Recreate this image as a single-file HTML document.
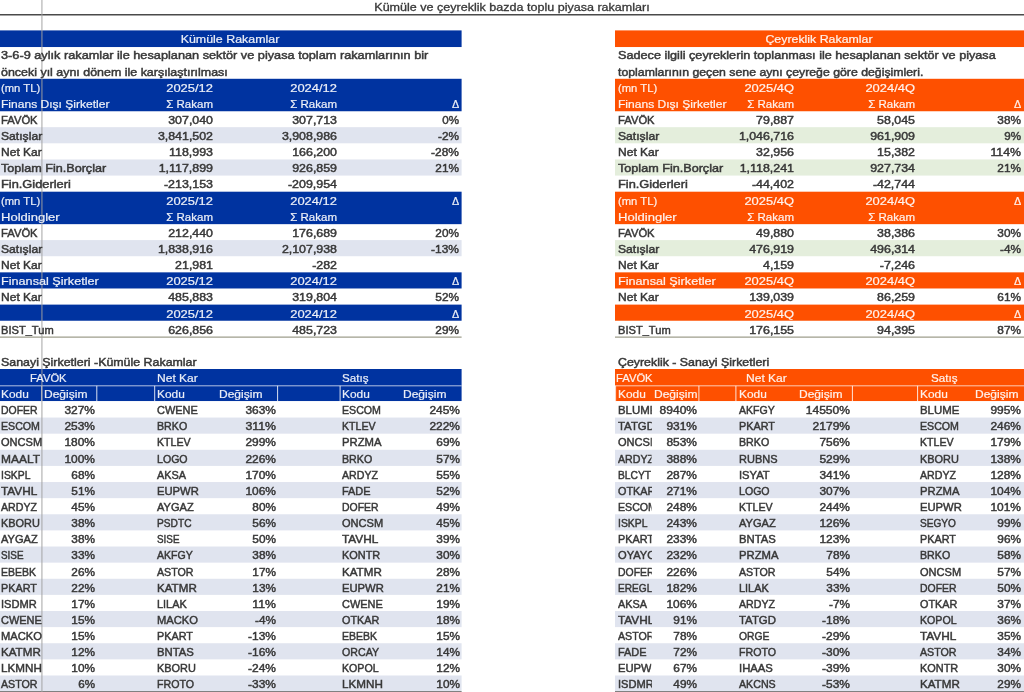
<!DOCTYPE html>
<html lang="tr">
<head>
<meta charset="utf-8">
<title>Kümüle ve çeyreklik bazda toplu piyasa rakamları</title>
<style>
html,body{margin:0;padding:0;background:#fff;}
body{width:1024px;height:692px;position:relative;overflow:hidden;font-family:"Liberation Sans",Arial,sans-serif;font-size:10.8px;color:#383838;}
#bg{position:absolute;left:0;top:0;}
#wrap{position:absolute;left:0;top:0;width:1024px;height:692px;filter:blur(0.4px);}
.row{position:absolute;left:0;width:1024px;height:16px;}
.t{position:absolute;top:0;display:block;white-space:nowrap;line-height:16px;height:16px;-webkit-text-stroke:0.45px currentColor;transform-origin:0 50%;}
.r{text-align:right;width:200px;transform-origin:100% 50%;}
.c{text-align:center;width:300px;transform-origin:50% 50%;}
.w{color:rgba(255,255,255,0.9);-webkit-text-stroke:0.2px currentColor;}
.clip{overflow:hidden;}

</style>
</head>
<body>
<div id="wrap">
<svg id="bg" width="1024" height="692" viewBox="0 0 1024 692" overflow="visible">
<rect x="-6.00" y="30.40" width="467.60" height="16.63" fill="#0033A0"/>
<rect x="-6.00" y="78.79" width="467.60" height="32.46" fill="#0033A0"/>
<rect x="-6.00" y="127.18" width="467.60" height="16.13" fill="#E0E4EF"/>
<rect x="-6.00" y="159.44" width="467.60" height="16.13" fill="#E0E4EF"/>
<rect x="-6.00" y="191.70" width="467.60" height="32.46" fill="#0033A0"/>
<rect x="-6.00" y="240.09" width="467.60" height="16.13" fill="#E0E4EF"/>
<rect x="-6.00" y="272.35" width="467.60" height="16.13" fill="#0033A0"/>
<rect x="-6.00" y="304.61" width="467.60" height="16.13" fill="#0033A0"/>
<rect x="615.00" y="30.40" width="415.00" height="16.63" fill="#FE5000"/>
<rect x="615.00" y="78.79" width="415.00" height="32.46" fill="#FE5000"/>
<rect x="615.00" y="127.18" width="415.00" height="16.13" fill="#E4EEDC"/>
<rect x="615.00" y="159.44" width="415.00" height="16.13" fill="#E4EEDC"/>
<rect x="615.00" y="191.70" width="415.00" height="32.46" fill="#FE5000"/>
<rect x="615.00" y="240.09" width="415.00" height="16.13" fill="#E4EEDC"/>
<rect x="615.00" y="272.35" width="415.00" height="16.13" fill="#FE5000"/>
<rect x="615.00" y="304.61" width="415.00" height="16.13" fill="#FE5000"/>
<rect x="-6.00" y="369.00" width="467.60" height="32.04" fill="#0033A0"/>
<rect x="-6.00" y="417.56" width="467.60" height="16.12" fill="#E0E4EF"/>
<rect x="-6.00" y="449.80" width="467.60" height="16.12" fill="#E0E4EF"/>
<rect x="-6.00" y="482.04" width="467.60" height="16.12" fill="#E0E4EF"/>
<rect x="-6.00" y="514.28" width="467.60" height="16.12" fill="#E0E4EF"/>
<rect x="-6.00" y="546.52" width="467.60" height="16.12" fill="#E0E4EF"/>
<rect x="-6.00" y="578.76" width="467.60" height="16.12" fill="#E0E4EF"/>
<rect x="-6.00" y="611.00" width="467.60" height="16.12" fill="#E0E4EF"/>
<rect x="-6.00" y="643.24" width="467.60" height="16.12" fill="#E0E4EF"/>
<rect x="-6.00" y="675.48" width="467.60" height="16.12" fill="#E0E4EF"/>
<rect x="615.00" y="369.00" width="415.00" height="32.04" fill="#FE5000"/>
<rect x="615.00" y="417.56" width="415.00" height="16.12" fill="#E0E4EF"/>
<rect x="615.00" y="449.80" width="415.00" height="16.12" fill="#E0E4EF"/>
<rect x="615.00" y="482.04" width="415.00" height="16.12" fill="#E0E4EF"/>
<rect x="615.00" y="514.28" width="415.00" height="16.12" fill="#E0E4EF"/>
<rect x="615.00" y="546.52" width="415.00" height="16.12" fill="#E0E4EF"/>
<rect x="615.00" y="578.76" width="415.00" height="16.12" fill="#E0E4EF"/>
<rect x="615.00" y="611.00" width="415.00" height="16.12" fill="#E0E4EF"/>
<rect x="615.00" y="643.24" width="415.00" height="16.12" fill="#E0E4EF"/>
<rect x="615.00" y="675.48" width="415.00" height="16.12" fill="#E0E4EF"/>
<line x1="-6" y1="14.7" x2="1030" y2="14.7" stroke="#4a4a4a" stroke-width="1.4"/>
<line x1="-6.00" y1="337.17" x2="461.60" y2="337.17" stroke="#9e9e8c" stroke-width="1.2"/>
<line x1="615.00" y1="337.17" x2="1030.00" y2="337.17" stroke="#9e9e8c" stroke-width="1.2"/>
<line x1="-6.00" y1="385.82" x2="461.60" y2="385.82" stroke="rgba(255,255,255,0.7)" stroke-width="1"/>
<line x1="41.70" y1="385.82" x2="41.70" y2="401.04" stroke="rgba(255,255,255,0.85)" stroke-width="1"/>
<line x1="96.80" y1="385.82" x2="96.80" y2="401.04" stroke="rgba(255,255,255,0.85)" stroke-width="1"/>
<line x1="154.70" y1="385.82" x2="154.70" y2="401.04" stroke="rgba(255,255,255,0.85)" stroke-width="1"/>
<line x1="277.60" y1="385.82" x2="277.60" y2="401.04" stroke="rgba(255,255,255,0.85)" stroke-width="1"/>
<line x1="340.10" y1="385.82" x2="340.10" y2="401.04" stroke="rgba(255,255,255,0.85)" stroke-width="1"/>
<line x1="-6.00" y1="691.50" x2="461.60" y2="691.50" stroke="#808080" stroke-width="1.2"/>
<line x1="615.00" y1="385.82" x2="1030.00" y2="385.82" stroke="rgba(255,255,255,0.7)" stroke-width="1"/>
<line x1="615.60" y1="385.82" x2="615.60" y2="401.04" stroke="rgba(255,255,255,0.85)" stroke-width="1"/>
<line x1="698.90" y1="385.82" x2="698.90" y2="401.04" stroke="rgba(255,255,255,0.85)" stroke-width="1"/>
<line x1="735.90" y1="385.82" x2="735.90" y2="401.04" stroke="rgba(255,255,255,0.85)" stroke-width="1"/>
<line x1="852.40" y1="385.82" x2="852.40" y2="401.04" stroke="rgba(255,255,255,0.85)" stroke-width="1"/>
<line x1="917.60" y1="385.82" x2="917.60" y2="401.04" stroke="rgba(255,255,255,0.85)" stroke-width="1"/>
<line x1="615.00" y1="691.50" x2="1030.00" y2="691.50" stroke="#808080" stroke-width="1.2"/>
<line x1="41.9" y1="-6" x2="41.9" y2="698" stroke="#a0a0a0" stroke-opacity="0.6" stroke-width="1.6"/>
</svg>
<h1 class="t c" style="margin:0;font-weight:normal;left:362.0px;top:-1px;font-size:10.7px;-webkit-text-stroke-width:0.3px;transform:scaleX(1.174)">Kümüle ve çeyreklik bazda toplu piyasa rakamları</h1>
<section class="tbl" aria-label="Kümüle Rakamlar">
<div class="row" style="top:31px">
<span class="t c w" style="left:80.3px;transform:scaleX(1.150)">Kümüle Rakamlar</span>
</div>
<div class="row" style="top:47px">
<span class="t" style="left:1.0px;transform:scaleX(1.179)">3-6-9 aylık rakamlar ile hesaplanan sektör ve piyasa toplam rakamlarının bir</span>
</div>
<div class="row" style="top:64px">
<span class="t" style="left:1.0px;transform:scaleX(1.152)">önceki yıl aynı dönem ile karşılaştırılması</span>
</div>
<div class="row" style="top:80px">
<span class="t w" style="left:1.0px;transform:scaleX(1.042)">(mn TL)</span>
<span class="t r w" style="left:13.4px;transform:scaleX(1.199)">2025/12</span>
<span class="t r w" style="left:137.4px;transform:scaleX(1.199)">2024/12</span>
</div>
<div class="row" style="top:96px">
<span class="t w" style="left:1.0px;transform:scaleX(1.116)">Finans Dışı Şirketler</span>
<span class="t r w" style="left:13.4px;transform:scaleX(1.067)">Σ Rakam</span>
<span class="t r w" style="left:137.4px;transform:scaleX(1.067)">Σ Rakam</span>
<span class="t r w" style="left:259.2px">Δ</span>
</div>
<div class="row" style="top:112px">
<span class="t" style="left:1.0px;transform:scaleX(1.040)">FAVÖK</span>
<span class="t r" style="left:13.4px;transform:scaleX(1.147)">307,040</span>
<span class="t r" style="left:137.4px;transform:scaleX(1.147)">307,713</span>
<span class="t r" style="left:259.2px;transform:scaleX(1.075)">0%</span>
</div>
<div class="row" style="top:128px">
<span class="t" style="left:1.0px;transform:scaleX(1.125)">Satışlar</span>
<span class="t r" style="left:13.4px;transform:scaleX(1.147)">3,841,502</span>
<span class="t r" style="left:137.4px;transform:scaleX(1.147)">3,908,986</span>
<span class="t r" style="left:259.2px;transform:scaleX(1.095)">-2%</span>
</div>
<div class="row" style="top:144px">
<span class="t" style="left:1.0px;transform:scaleX(1.114)">Net Kar</span>
<span class="t r" style="left:13.4px;transform:scaleX(1.150)">118,993</span>
<span class="t r" style="left:137.4px;transform:scaleX(1.147)">166,200</span>
<span class="t r" style="left:259.2px;transform:scaleX(1.107)">-28%</span>
</div>
<div class="row" style="top:160px">
<span class="t" style="left:1.0px;transform:scaleX(1.169)">Toplam Fin.Borçlar</span>
<span class="t r" style="left:13.4px;transform:scaleX(1.150)">1,117,899</span>
<span class="t r" style="left:137.4px;transform:scaleX(1.147)">926,859</span>
<span class="t r" style="left:259.2px;transform:scaleX(1.095)">21%</span>
</div>
<div class="row" style="top:176px">
<span class="t" style="left:1.0px;transform:scaleX(1.187)">Fin.Giderleri</span>
<span class="t r" style="left:13.4px;transform:scaleX(1.150)">-213,153</span>
<span class="t r" style="left:137.4px;transform:scaleX(1.150)">-209,954</span>
</div>
<div class="row" style="top:193px">
<span class="t w" style="left:1.0px;transform:scaleX(1.042)">(mn TL)</span>
<span class="t r w" style="left:13.4px;transform:scaleX(1.199)">2025/12</span>
<span class="t r w" style="left:137.4px;transform:scaleX(1.199)">2024/12</span>
<span class="t r w" style="left:259.2px">Δ</span>
</div>
<div class="row" style="top:209px">
<span class="t w" style="left:1.0px;transform:scaleX(1.207)">Holdingler</span>
<span class="t r w" style="left:13.4px;transform:scaleX(1.067)">Σ Rakam</span>
<span class="t r w" style="left:137.4px;transform:scaleX(1.067)">Σ Rakam</span>
</div>
<div class="row" style="top:225px">
<span class="t" style="left:1.0px;transform:scaleX(1.040)">FAVÖK</span>
<span class="t r" style="left:13.4px;transform:scaleX(1.147)">212,440</span>
<span class="t r" style="left:137.4px;transform:scaleX(1.147)">176,689</span>
<span class="t r" style="left:259.2px;transform:scaleX(1.095)">20%</span>
</div>
<div class="row" style="top:241px">
<span class="t" style="left:1.0px;transform:scaleX(1.125)">Satışlar</span>
<span class="t r" style="left:13.4px;transform:scaleX(1.147)">1,838,916</span>
<span class="t r" style="left:137.4px;transform:scaleX(1.147)">2,107,938</span>
<span class="t r" style="left:259.2px;transform:scaleX(1.107)">-13%</span>
</div>
<div class="row" style="top:257px">
<span class="t" style="left:1.0px;transform:scaleX(1.114)">Net Kar</span>
<span class="t r" style="left:13.4px;transform:scaleX(1.147)">21,981</span>
<span class="t r" style="left:137.4px;transform:scaleX(1.150)">-282</span>
</div>
<div class="row" style="top:273px">
<span class="t w" style="left:1.0px;transform:scaleX(1.172)">Finansal Şirketler</span>
<span class="t r w" style="left:13.4px;transform:scaleX(1.199)">2025/12</span>
<span class="t r w" style="left:137.4px;transform:scaleX(1.199)">2024/12</span>
<span class="t r w" style="left:259.2px">Δ</span>
</div>
<div class="row" style="top:289px">
<span class="t" style="left:1.0px;transform:scaleX(1.114)">Net Kar</span>
<span class="t r" style="left:13.4px;transform:scaleX(1.147)">485,883</span>
<span class="t r" style="left:137.4px;transform:scaleX(1.147)">319,804</span>
<span class="t r" style="left:259.2px;transform:scaleX(1.095)">52%</span>
</div>
<div class="row" style="top:306px">
<span class="t r w" style="left:13.4px;transform:scaleX(1.199)">2025/12</span>
<span class="t r w" style="left:137.4px;transform:scaleX(1.199)">2024/12</span>
<span class="t r w" style="left:259.2px">Δ</span>
</div>
<div class="row" style="top:322px">
<span class="t" style="left:1.0px;transform:scaleX(1.029)">BIST_Tum</span>
<span class="t r" style="left:13.4px;transform:scaleX(1.147)">626,856</span>
<span class="t r" style="left:137.4px;transform:scaleX(1.147)">485,723</span>
<span class="t r" style="left:259.2px;transform:scaleX(1.095)">29%</span>
</div>
</section>
<section class="tbl" aria-label="Çeyreklik Rakamlar">
<div class="row" style="top:31px">
<span class="t c w" style="left:669.0px;transform:scaleX(1.145)">Çeyreklik Rakamlar</span>
</div>
<div class="row" style="top:47px">
<span class="t" style="left:618.4px;transform:scaleX(1.172)">Sadece ilgili çeyreklerin toplanması ile hesaplanan sektör ve piyasa</span>
</div>
<div class="row" style="top:64px">
<span class="t" style="left:618.4px;transform:scaleX(1.138)">toplamlarının geçen sene aynı çeyreğe göre değişimleri.</span>
</div>
<div class="row" style="top:80px">
<span class="t w" style="left:618.4px;transform:scaleX(1.042)">(mn TL)</span>
<span class="t r w" style="left:594.0px;transform:scaleX(1.197)">2025/4Q</span>
<span class="t r w" style="left:715.0px;transform:scaleX(1.197)">2024/4Q</span>
</div>
<div class="row" style="top:96px">
<span class="t w" style="left:618.4px;transform:scaleX(1.116)">Finans Dışı Şirketler</span>
<span class="t r w" style="left:594.0px;transform:scaleX(1.067)">Σ Rakam</span>
<span class="t r w" style="left:715.0px;transform:scaleX(1.067)">Σ Rakam</span>
<span class="t r w" style="left:821.2px">Δ</span>
</div>
<div class="row" style="top:112px">
<span class="t" style="left:618.4px;transform:scaleX(1.040)">FAVÖK</span>
<span class="t r" style="left:594.0px;transform:scaleX(1.147)">79,887</span>
<span class="t r" style="left:715.0px;transform:scaleX(1.147)">58,045</span>
<span class="t r" style="left:821.2px;transform:scaleX(1.095)">38%</span>
</div>
<div class="row" style="top:128px">
<span class="t" style="left:618.4px;transform:scaleX(1.125)">Satışlar</span>
<span class="t r" style="left:594.0px;transform:scaleX(1.147)">1,046,716</span>
<span class="t r" style="left:715.0px;transform:scaleX(1.147)">961,909</span>
<span class="t r" style="left:821.2px;transform:scaleX(1.075)">9%</span>
</div>
<div class="row" style="top:144px">
<span class="t" style="left:618.4px;transform:scaleX(1.114)">Net Kar</span>
<span class="t r" style="left:594.0px;transform:scaleX(1.147)">32,956</span>
<span class="t r" style="left:715.0px;transform:scaleX(1.147)">15,382</span>
<span class="t r" style="left:821.2px;transform:scaleX(1.139)">114%</span>
</div>
<div class="row" style="top:160px">
<span class="t" style="left:618.4px;transform:scaleX(1.169)">Toplam Fin.Borçlar</span>
<span class="t r" style="left:594.0px;transform:scaleX(1.150)">1,118,241</span>
<span class="t r" style="left:715.0px;transform:scaleX(1.147)">927,734</span>
<span class="t r" style="left:821.2px;transform:scaleX(1.095)">21%</span>
</div>
<div class="row" style="top:176px">
<span class="t" style="left:618.4px;transform:scaleX(1.187)">Fin.Giderleri</span>
<span class="t r" style="left:594.0px;transform:scaleX(1.150)">-44,402</span>
<span class="t r" style="left:715.0px;transform:scaleX(1.150)">-42,744</span>
</div>
<div class="row" style="top:193px">
<span class="t w" style="left:618.4px;transform:scaleX(1.042)">(mn TL)</span>
<span class="t r w" style="left:594.0px;transform:scaleX(1.197)">2025/4Q</span>
<span class="t r w" style="left:715.0px;transform:scaleX(1.197)">2024/4Q</span>
<span class="t r w" style="left:821.2px">Δ</span>
</div>
<div class="row" style="top:209px">
<span class="t w" style="left:618.4px;transform:scaleX(1.207)">Holdingler</span>
<span class="t r w" style="left:594.0px;transform:scaleX(1.067)">Σ Rakam</span>
<span class="t r w" style="left:715.0px;transform:scaleX(1.067)">Σ Rakam</span>
</div>
<div class="row" style="top:225px">
<span class="t" style="left:618.4px;transform:scaleX(1.040)">FAVÖK</span>
<span class="t r" style="left:594.0px;transform:scaleX(1.147)">49,880</span>
<span class="t r" style="left:715.0px;transform:scaleX(1.147)">38,386</span>
<span class="t r" style="left:821.2px;transform:scaleX(1.095)">30%</span>
</div>
<div class="row" style="top:241px">
<span class="t" style="left:618.4px;transform:scaleX(1.125)">Satışlar</span>
<span class="t r" style="left:594.0px;transform:scaleX(1.147)">476,919</span>
<span class="t r" style="left:715.0px;transform:scaleX(1.147)">496,314</span>
<span class="t r" style="left:821.2px;transform:scaleX(1.095)">-4%</span>
</div>
<div class="row" style="top:257px">
<span class="t" style="left:618.4px;transform:scaleX(1.114)">Net Kar</span>
<span class="t r" style="left:594.0px;transform:scaleX(1.147)">4,159</span>
<span class="t r" style="left:715.0px;transform:scaleX(1.150)">-7,246</span>
</div>
<div class="row" style="top:273px">
<span class="t w" style="left:618.4px;transform:scaleX(1.172)">Finansal Şirketler</span>
<span class="t r w" style="left:594.0px;transform:scaleX(1.197)">2025/4Q</span>
<span class="t r w" style="left:715.0px;transform:scaleX(1.197)">2024/4Q</span>
<span class="t r w" style="left:821.2px">Δ</span>
</div>
<div class="row" style="top:289px">
<span class="t" style="left:618.4px;transform:scaleX(1.114)">Net Kar</span>
<span class="t r" style="left:594.0px;transform:scaleX(1.147)">139,039</span>
<span class="t r" style="left:715.0px;transform:scaleX(1.147)">86,259</span>
<span class="t r" style="left:821.2px;transform:scaleX(1.095)">61%</span>
</div>
<div class="row" style="top:306px">
<span class="t r w" style="left:594.0px;transform:scaleX(1.197)">2025/4Q</span>
<span class="t r w" style="left:715.0px;transform:scaleX(1.197)">2024/4Q</span>
<span class="t r w" style="left:821.2px">Δ</span>
</div>
<div class="row" style="top:322px">
<span class="t" style="left:618.4px;transform:scaleX(1.029)">BIST_Tum</span>
<span class="t r" style="left:594.0px;transform:scaleX(1.147)">176,155</span>
<span class="t r" style="left:715.0px;transform:scaleX(1.147)">94,395</span>
<span class="t r" style="left:821.2px;transform:scaleX(1.095)">87%</span>
</div>
</section>
<section class="tbl" aria-label="Sanayi Şirketleri - Kümüle Rakamlar">
<div class="row" style="top:354px">
<span class="t" style="left:0.6px;transform:scaleX(1.148)">Sanayi Şirketleri -Kümüle Rakamlar</span>
</div>
<div class="row" style="top:370px">
<span class="t w" style="left:29.9px;transform:scaleX(1.040)">FAVÖK</span>
<span class="t w" style="left:156.7px;transform:scaleX(1.114)">Net Kar</span>
<span class="t w" style="left:342.2px;transform:scaleX(1.077)">Satış</span>
</div>
<div class="row" style="top:386px">
<span class="t w" style="left:1.1px;transform:scaleX(1.102)">Kodu</span>
<span class="t w" style="left:44.2px;transform:scaleX(1.113)">Değişim</span>
<span class="t w" style="left:156.7px;transform:scaleX(1.102)">Kodu</span>
<span class="t w" style="left:219.2px;transform:scaleX(1.113)">Değişim</span>
<span class="t w" style="left:342.2px;transform:scaleX(1.102)">Kodu</span>
<span class="t w" style="left:403.1px;transform:scaleX(1.113)">Değişim</span>
</div>
<div class="row" style="top:402px">
<span class="t" style="left:1.1px;transform:scaleX(0.966)">DOFER</span>
<span class="t r" style="left:-104.6px;transform:scaleX(1.106)">327%</span>
<span class="t" style="left:156.7px;transform:scaleX(1.017)">CWENE</span>
<span class="t r" style="left:75.6px;transform:scaleX(1.106)">363%</span>
<span class="t" style="left:342.2px;transform:scaleX(0.984)">ESCOM</span>
<span class="t r" style="left:259.8px;transform:scaleX(1.106)">245%</span>
</div>
<div class="row" style="top:418px">
<span class="t" style="left:1.1px;transform:scaleX(0.984)">ESCOM</span>
<span class="t r" style="left:-104.6px;transform:scaleX(1.106)">253%</span>
<span class="t" style="left:156.7px;transform:scaleX(0.988)">BRKO</span>
<span class="t r" style="left:75.6px;transform:scaleX(1.139)">311%</span>
<span class="t" style="left:342.2px;transform:scaleX(0.984)">KTLEV</span>
<span class="t r" style="left:259.8px;transform:scaleX(1.106)">222%</span>
</div>
<div class="row" style="top:434px">
<span class="t" style="left:1.1px;transform:scaleX(1.023)">ONCSM</span>
<span class="t r" style="left:-104.6px;transform:scaleX(1.106)">180%</span>
<span class="t" style="left:156.7px;transform:scaleX(0.984)">KTLEV</span>
<span class="t r" style="left:75.6px;transform:scaleX(1.106)">299%</span>
<span class="t" style="left:342.2px;transform:scaleX(1.045)">PRZMA</span>
<span class="t r" style="left:259.8px;transform:scaleX(1.095)">69%</span>
</div>
<div class="row" style="top:451px">
<span class="t" style="left:1.1px;transform:scaleX(1.106)">MAALT</span>
<span class="t r" style="left:-104.6px;transform:scaleX(1.106)">100%</span>
<span class="t" style="left:156.7px;transform:scaleX(0.981)">LOGO</span>
<span class="t r" style="left:75.6px;transform:scaleX(1.106)">226%</span>
<span class="t" style="left:342.2px;transform:scaleX(0.988)">BRKO</span>
<span class="t r" style="left:259.8px;transform:scaleX(1.095)">57%</span>
</div>
<div class="row" style="top:467px">
<span class="t" style="left:1.1px;transform:scaleX(0.961)">ISKPL</span>
<span class="t r" style="left:-104.6px;transform:scaleX(1.095)">68%</span>
<span class="t" style="left:156.7px;transform:scaleX(1.007)">AKSA</span>
<span class="t r" style="left:75.6px;transform:scaleX(1.106)">170%</span>
<span class="t" style="left:342.2px;transform:scaleX(0.985)">ARDYZ</span>
<span class="t r" style="left:259.8px;transform:scaleX(1.095)">55%</span>
</div>
<div class="row" style="top:483px">
<span class="t" style="left:1.1px;transform:scaleX(1.094)">TAVHL</span>
<span class="t r" style="left:-104.6px;transform:scaleX(1.095)">51%</span>
<span class="t" style="left:156.7px;transform:scaleX(1.040)">EUPWR</span>
<span class="t r" style="left:75.6px;transform:scaleX(1.106)">106%</span>
<span class="t" style="left:342.2px;transform:scaleX(1.012)">FADE</span>
<span class="t r" style="left:259.8px;transform:scaleX(1.095)">52%</span>
</div>
<div class="row" style="top:499px">
<span class="t" style="left:1.1px;transform:scaleX(0.985)">ARDYZ</span>
<span class="t r" style="left:-104.6px;transform:scaleX(1.095)">45%</span>
<span class="t" style="left:156.7px;transform:scaleX(1.026)">AYGAZ</span>
<span class="t r" style="left:75.6px;transform:scaleX(1.095)">80%</span>
<span class="t" style="left:342.2px;transform:scaleX(0.966)">DOFER</span>
<span class="t r" style="left:259.8px;transform:scaleX(1.095)">49%</span>
</div>
<div class="row" style="top:515px">
<span class="t" style="left:1.1px;transform:scaleX(1.014)">KBORU</span>
<span class="t r" style="left:-104.6px;transform:scaleX(1.095)">38%</span>
<span class="t" style="left:156.7px;transform:scaleX(0.942)">PSDTC</span>
<span class="t r" style="left:75.6px;transform:scaleX(1.095)">56%</span>
<span class="t" style="left:342.2px;transform:scaleX(1.023)">ONCSM</span>
<span class="t r" style="left:259.8px;transform:scaleX(1.095)">45%</span>
</div>
<div class="row" style="top:531px">
<span class="t" style="left:1.1px;transform:scaleX(1.026)">AYGAZ</span>
<span class="t r" style="left:-104.6px;transform:scaleX(1.095)">38%</span>
<span class="t" style="left:156.7px;transform:scaleX(0.914)">SISE</span>
<span class="t r" style="left:75.6px;transform:scaleX(1.095)">50%</span>
<span class="t" style="left:342.2px;transform:scaleX(1.094)">TAVHL</span>
<span class="t r" style="left:259.8px;transform:scaleX(1.095)">39%</span>
</div>
<div class="row" style="top:547px">
<span class="t" style="left:1.1px;transform:scaleX(0.914)">SISE</span>
<span class="t r" style="left:-104.6px;transform:scaleX(1.095)">33%</span>
<span class="t" style="left:156.7px;transform:scaleX(0.978)">AKFGY</span>
<span class="t r" style="left:75.6px;transform:scaleX(1.095)">38%</span>
<span class="t" style="left:342.2px;transform:scaleX(1.012)">KONTR</span>
<span class="t r" style="left:259.8px;transform:scaleX(1.095)">30%</span>
</div>
<div class="row" style="top:564px">
<span class="t" style="left:1.1px;transform:scaleX(0.974)">EBEBK</span>
<span class="t r" style="left:-104.6px;transform:scaleX(1.095)">26%</span>
<span class="t" style="left:156.7px;transform:scaleX(0.987)">ASTOR</span>
<span class="t r" style="left:75.6px;transform:scaleX(1.095)">17%</span>
<span class="t" style="left:342.2px;transform:scaleX(1.075)">KATMR</span>
<span class="t r" style="left:259.8px;transform:scaleX(1.095)">28%</span>
</div>
<div class="row" style="top:580px">
<span class="t" style="left:1.1px;transform:scaleX(1.003)">PKART</span>
<span class="t r" style="left:-104.6px;transform:scaleX(1.095)">22%</span>
<span class="t" style="left:156.7px;transform:scaleX(1.075)">KATMR</span>
<span class="t r" style="left:75.6px;transform:scaleX(1.095)">13%</span>
<span class="t" style="left:342.2px;transform:scaleX(1.040)">EUPWR</span>
<span class="t r" style="left:259.8px;transform:scaleX(1.095)">21%</span>
</div>
<div class="row" style="top:596px">
<span class="t" style="left:1.1px;transform:scaleX(1.027)">ISDMR</span>
<span class="t r" style="left:-104.6px;transform:scaleX(1.095)">17%</span>
<span class="t" style="left:156.7px;transform:scaleX(1.011)">LILAK</span>
<span class="t r" style="left:75.6px;transform:scaleX(1.137)">11%</span>
<span class="t" style="left:342.2px;transform:scaleX(1.017)">CWENE</span>
<span class="t r" style="left:259.8px;transform:scaleX(1.095)">19%</span>
</div>
<div class="row" style="top:612px">
<span class="t" style="left:1.1px;transform:scaleX(1.017)">CWENE</span>
<span class="t r" style="left:-104.6px;transform:scaleX(1.095)">15%</span>
<span class="t" style="left:156.7px;transform:scaleX(1.036)">MACKO</span>
<span class="t r" style="left:75.6px;transform:scaleX(1.095)">-4%</span>
<span class="t" style="left:342.2px;transform:scaleX(1.003)">OTKAR</span>
<span class="t r" style="left:259.8px;transform:scaleX(1.095)">18%</span>
</div>
<div class="row" style="top:628px">
<span class="t" style="left:1.1px;transform:scaleX(1.036)">MACKO</span>
<span class="t r" style="left:-104.6px;transform:scaleX(1.095)">15%</span>
<span class="t" style="left:156.7px;transform:scaleX(1.003)">PKART</span>
<span class="t r" style="left:75.6px;transform:scaleX(1.107)">-13%</span>
<span class="t" style="left:342.2px;transform:scaleX(0.974)">EBEBK</span>
<span class="t r" style="left:259.8px;transform:scaleX(1.095)">15%</span>
</div>
<div class="row" style="top:644px">
<span class="t" style="left:1.1px;transform:scaleX(1.075)">KATMR</span>
<span class="t r" style="left:-104.6px;transform:scaleX(1.095)">12%</span>
<span class="t" style="left:156.7px;transform:scaleX(1.047)">BNTAS</span>
<span class="t r" style="left:75.6px;transform:scaleX(1.107)">-16%</span>
<span class="t" style="left:342.2px;transform:scaleX(0.986)">ORCAY</span>
<span class="t r" style="left:259.8px;transform:scaleX(1.095)">14%</span>
</div>
<div class="row" style="top:660px">
<span class="t" style="left:1.1px;transform:scaleX(1.081)">LKMNH</span>
<span class="t r" style="left:-104.6px;transform:scaleX(1.095)">10%</span>
<span class="t" style="left:156.7px;transform:scaleX(1.014)">KBORU</span>
<span class="t r" style="left:75.6px;transform:scaleX(1.107)">-24%</span>
<span class="t" style="left:342.2px;transform:scaleX(0.985)">KOPOL</span>
<span class="t r" style="left:259.8px;transform:scaleX(1.095)">12%</span>
</div>
<div class="row" style="top:676px">
<span class="t" style="left:1.1px;transform:scaleX(0.987)">ASTOR</span>
<span class="t r" style="left:-104.6px;transform:scaleX(1.075)">6%</span>
<span class="t" style="left:156.7px;transform:scaleX(0.986)">FROTO</span>
<span class="t r" style="left:75.6px;transform:scaleX(1.107)">-33%</span>
<span class="t" style="left:342.2px;transform:scaleX(1.081)">LKMNH</span>
<span class="t r" style="left:259.8px;transform:scaleX(1.095)">10%</span>
</div>
</section>
<section class="tbl" aria-label="Çeyreklik - Sanayi Şirketleri">
<div class="row" style="top:354px">
<span class="t" style="left:617.5px;transform:scaleX(1.145)">Çeyreklik - Sanayi Şirketleri</span>
</div>
<div class="row" style="top:370px">
<span class="t w" style="left:615.6px;transform:scaleX(1.040)">FAVÖK</span>
<span class="t w" style="left:746.4px;transform:scaleX(1.114)">Net Kar</span>
<span class="t w" style="left:931.3px;transform:scaleX(1.077)">Satış</span>
</div>
<div class="row" style="top:386px">
<span class="t w" style="left:617.9px;transform:scaleX(1.102)">Kodu</span>
<span class="t w" style="left:653.6px;transform:scaleX(1.113)">Değişim</span>
<span class="t w" style="left:739.1px;transform:scaleX(1.102)">Kodu</span>
<span class="t w" style="left:799.2px;transform:scaleX(1.113)">Değişim</span>
<span class="t w" style="left:920.2px;transform:scaleX(1.102)">Kodu</span>
<span class="t w" style="left:974.9px;transform:scaleX(1.113)">Değişim</span>
</div>
<div class="row" style="top:402px">
<span class="t clip" style="left:617.9px;width:31.9px;transform:scaleX(1.057)">BLUME</span>
<span class="t r" style="left:496.8px;transform:scaleX(1.113)">8940%</span>
<span class="t" style="left:739.1px;transform:scaleX(0.978)">AKFGY</span>
<span class="t r" style="left:649.8px;transform:scaleX(1.118)">14550%</span>
<span class="t" style="left:920.2px;transform:scaleX(1.057)">BLUME</span>
<span class="t r" style="left:820.8px;transform:scaleX(1.106)">995%</span>
</div>
<div class="row" style="top:418px">
<span class="t clip" style="left:617.9px;width:31.9px;transform:scaleX(1.056)">TATGD</span>
<span class="t r" style="left:496.8px;transform:scaleX(1.106)">931%</span>
<span class="t" style="left:739.1px;transform:scaleX(1.003)">PKART</span>
<span class="t r" style="left:649.8px;transform:scaleX(1.113)">2179%</span>
<span class="t" style="left:920.2px;transform:scaleX(0.984)">ESCOM</span>
<span class="t r" style="left:820.8px;transform:scaleX(1.106)">246%</span>
</div>
<div class="row" style="top:434px">
<span class="t clip" style="left:617.9px;width:32.9px;transform:scaleX(1.023)">ONCSM</span>
<span class="t r" style="left:496.8px;transform:scaleX(1.106)">853%</span>
<span class="t" style="left:739.1px;transform:scaleX(0.988)">BRKO</span>
<span class="t r" style="left:649.8px;transform:scaleX(1.106)">756%</span>
<span class="t" style="left:920.2px;transform:scaleX(0.984)">KTLEV</span>
<span class="t r" style="left:820.8px;transform:scaleX(1.106)">179%</span>
</div>
<div class="row" style="top:451px">
<span class="t clip" style="left:617.9px;width:34.2px;transform:scaleX(0.985)">ARDYZ</span>
<span class="t r" style="left:496.8px;transform:scaleX(1.106)">388%</span>
<span class="t" style="left:739.1px;transform:scaleX(1.018)">RUBNS</span>
<span class="t r" style="left:649.8px;transform:scaleX(1.106)">529%</span>
<span class="t" style="left:920.2px;transform:scaleX(1.014)">KBORU</span>
<span class="t r" style="left:820.8px;transform:scaleX(1.106)">138%</span>
</div>
<div class="row" style="top:467px">
<span class="t clip" style="left:617.9px;width:35.4px;transform:scaleX(0.951)">BLCYT</span>
<span class="t r" style="left:496.8px;transform:scaleX(1.106)">287%</span>
<span class="t" style="left:739.1px;transform:scaleX(1.038)">ISYAT</span>
<span class="t r" style="left:649.8px;transform:scaleX(1.106)">341%</span>
<span class="t" style="left:920.2px;transform:scaleX(0.985)">ARDYZ</span>
<span class="t r" style="left:820.8px;transform:scaleX(1.106)">128%</span>
</div>
<div class="row" style="top:483px">
<span class="t clip" style="left:617.9px;width:33.6px;transform:scaleX(1.003)">OTKAR</span>
<span class="t r" style="left:496.8px;transform:scaleX(1.106)">271%</span>
<span class="t" style="left:739.1px;transform:scaleX(0.981)">LOGO</span>
<span class="t r" style="left:649.8px;transform:scaleX(1.106)">307%</span>
<span class="t" style="left:920.2px;transform:scaleX(1.045)">PRZMA</span>
<span class="t r" style="left:820.8px;transform:scaleX(1.106)">104%</span>
</div>
<div class="row" style="top:499px">
<span class="t clip" style="left:617.9px;width:34.2px;transform:scaleX(0.984)">ESCOM</span>
<span class="t r" style="left:496.8px;transform:scaleX(1.106)">248%</span>
<span class="t" style="left:739.1px;transform:scaleX(0.984)">KTLEV</span>
<span class="t r" style="left:649.8px;transform:scaleX(1.106)">244%</span>
<span class="t" style="left:920.2px;transform:scaleX(1.040)">EUPWR</span>
<span class="t r" style="left:820.8px;transform:scaleX(1.106)">101%</span>
</div>
<div class="row" style="top:515px">
<span class="t clip" style="left:617.9px;width:35.1px;transform:scaleX(0.961)">ISKPL</span>
<span class="t r" style="left:496.8px;transform:scaleX(1.106)">243%</span>
<span class="t" style="left:739.1px;transform:scaleX(1.026)">AYGAZ</span>
<span class="t r" style="left:649.8px;transform:scaleX(1.106)">126%</span>
<span class="t" style="left:920.2px;transform:scaleX(0.936)">SEGYO</span>
<span class="t r" style="left:820.8px;transform:scaleX(1.095)">99%</span>
</div>
<div class="row" style="top:531px">
<span class="t clip" style="left:617.9px;width:33.6px;transform:scaleX(1.003)">PKART</span>
<span class="t r" style="left:496.8px;transform:scaleX(1.106)">233%</span>
<span class="t" style="left:739.1px;transform:scaleX(1.047)">BNTAS</span>
<span class="t r" style="left:649.8px;transform:scaleX(1.106)">123%</span>
<span class="t" style="left:920.2px;transform:scaleX(1.003)">PKART</span>
<span class="t r" style="left:820.8px;transform:scaleX(1.095)">96%</span>
</div>
<div class="row" style="top:547px">
<span class="t clip" style="left:617.9px;width:32.7px;transform:scaleX(1.031)">OYAYO</span>
<span class="t r" style="left:496.8px;transform:scaleX(1.106)">232%</span>
<span class="t" style="left:739.1px;transform:scaleX(1.045)">PRZMA</span>
<span class="t r" style="left:649.8px;transform:scaleX(1.095)">78%</span>
<span class="t" style="left:920.2px;transform:scaleX(0.988)">BRKO</span>
<span class="t r" style="left:820.8px;transform:scaleX(1.095)">58%</span>
</div>
<div class="row" style="top:564px">
<span class="t clip" style="left:617.9px;width:34.9px;transform:scaleX(0.966)">DOFER</span>
<span class="t r" style="left:496.8px;transform:scaleX(1.106)">226%</span>
<span class="t" style="left:739.1px;transform:scaleX(0.987)">ASTOR</span>
<span class="t r" style="left:649.8px;transform:scaleX(1.095)">54%</span>
<span class="t" style="left:920.2px;transform:scaleX(1.023)">ONCSM</span>
<span class="t r" style="left:820.8px;transform:scaleX(1.095)">57%</span>
</div>
<div class="row" style="top:580px">
<span class="t clip" style="left:617.9px;width:35.9px;transform:scaleX(0.939)">EREGL</span>
<span class="t r" style="left:496.8px;transform:scaleX(1.106)">182%</span>
<span class="t" style="left:739.1px;transform:scaleX(1.011)">LILAK</span>
<span class="t r" style="left:649.8px;transform:scaleX(1.095)">33%</span>
<span class="t" style="left:920.2px;transform:scaleX(0.966)">DOFER</span>
<span class="t r" style="left:820.8px;transform:scaleX(1.095)">50%</span>
</div>
<div class="row" style="top:596px">
<span class="t clip" style="left:617.9px;width:33.5px;transform:scaleX(1.007)">AKSA</span>
<span class="t r" style="left:496.8px;transform:scaleX(1.106)">106%</span>
<span class="t" style="left:739.1px;transform:scaleX(0.985)">ARDYZ</span>
<span class="t r" style="left:649.8px;transform:scaleX(1.095)">-7%</span>
<span class="t" style="left:920.2px;transform:scaleX(1.003)">OTKAR</span>
<span class="t r" style="left:820.8px;transform:scaleX(1.095)">37%</span>
</div>
<div class="row" style="top:612px">
<span class="t clip" style="left:617.9px;width:30.8px;transform:scaleX(1.094)">TAVHL</span>
<span class="t r" style="left:496.8px;transform:scaleX(1.095)">91%</span>
<span class="t" style="left:739.1px;transform:scaleX(1.056)">TATGD</span>
<span class="t r" style="left:649.8px;transform:scaleX(1.107)">-18%</span>
<span class="t" style="left:920.2px;transform:scaleX(0.985)">KOPOL</span>
<span class="t r" style="left:820.8px;transform:scaleX(1.095)">36%</span>
</div>
<div class="row" style="top:628px">
<span class="t clip" style="left:617.9px;width:34.2px;transform:scaleX(0.987)">ASTOR</span>
<span class="t r" style="left:496.8px;transform:scaleX(1.095)">78%</span>
<span class="t" style="left:739.1px;transform:scaleX(0.958)">ORGE</span>
<span class="t r" style="left:649.8px;transform:scaleX(1.107)">-29%</span>
<span class="t" style="left:920.2px;transform:scaleX(1.094)">TAVHL</span>
<span class="t r" style="left:820.8px;transform:scaleX(1.095)">35%</span>
</div>
<div class="row" style="top:644px">
<span class="t clip" style="left:617.9px;width:33.3px;transform:scaleX(1.012)">FADE</span>
<span class="t r" style="left:496.8px;transform:scaleX(1.095)">72%</span>
<span class="t" style="left:739.1px;transform:scaleX(0.986)">FROTO</span>
<span class="t r" style="left:649.8px;transform:scaleX(1.107)">-30%</span>
<span class="t" style="left:920.2px;transform:scaleX(0.987)">ASTOR</span>
<span class="t r" style="left:820.8px;transform:scaleX(1.095)">34%</span>
</div>
<div class="row" style="top:660px">
<span class="t clip" style="left:617.9px;width:32.4px;transform:scaleX(1.040)">EUPWR</span>
<span class="t r" style="left:496.8px;transform:scaleX(1.095)">67%</span>
<span class="t" style="left:739.1px;transform:scaleX(1.044)">IHAAS</span>
<span class="t r" style="left:649.8px;transform:scaleX(1.107)">-39%</span>
<span class="t" style="left:920.2px;transform:scaleX(1.012)">KONTR</span>
<span class="t r" style="left:820.8px;transform:scaleX(1.095)">30%</span>
</div>
<div class="row" style="top:676px">
<span class="t clip" style="left:617.9px;width:32.8px;transform:scaleX(1.027)">ISDMR</span>
<span class="t r" style="left:496.8px;transform:scaleX(1.095)">49%</span>
<span class="t" style="left:739.1px;transform:scaleX(0.987)">AKCNS</span>
<span class="t r" style="left:649.8px;transform:scaleX(1.107)">-53%</span>
<span class="t" style="left:920.2px;transform:scaleX(1.075)">KATMR</span>
<span class="t r" style="left:820.8px;transform:scaleX(1.095)">29%</span>
</div>
</section>
</div>
</body>
</html>
